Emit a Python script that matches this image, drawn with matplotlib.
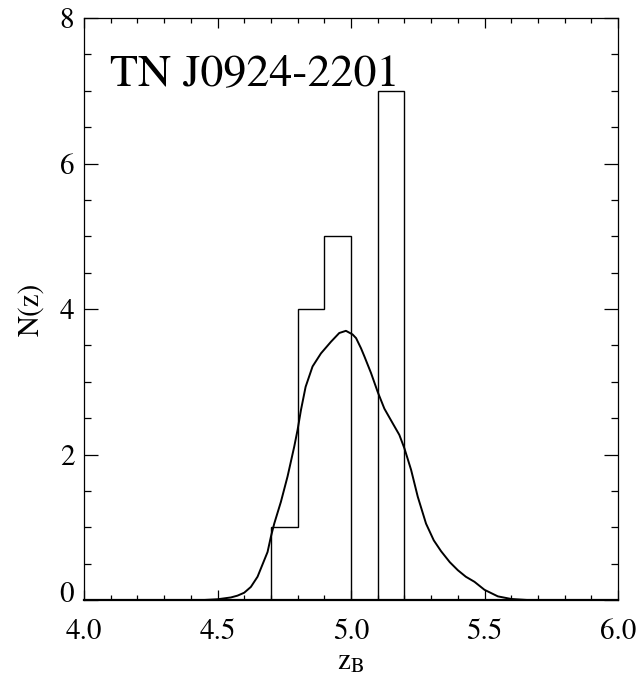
import matplotlib
matplotlib.use("Agg")
import matplotlib.pyplot as plt
import matplotlib.transforms as mtransforms
from matplotlib.ticker import MultipleLocator

plt.rcParams['font.family'] = ['TeX Gyre Termes', 'STIXGeneral', 'DejaVu Serif']
plt.rcParams['mathtext.fontset'] = 'custom'
plt.rcParams['mathtext.rm'] = 'TeX Gyre Termes'
plt.rcParams['mathtext.it'] = 'TeX Gyre Termes:italic'

# histogram of photometric redshifts
bin_edges = [4.7, 4.8, 4.9, 5.0, 5.1, 5.2]
counts = [1, 4, 5, 0, 7]

# smoothed N(z) curve
curve_z = [4.00, 4.45, 4.50, 4.55, 4.575, 4.60, 4.625, 4.65, 4.6875, 4.70,
           4.7125, 4.7375, 4.7625, 4.7875, 4.80, 4.8125, 4.83, 4.856, 4.8875,
           4.925, 4.956, 4.981, 5.006, 5.019, 5.0375, 5.05, 5.075, 5.10,
           5.125, 5.156, 5.181, 5.20, 5.225, 5.25, 5.281, 5.31, 5.3375,
           5.37, 5.40, 5.43, 5.4625, 5.50, 5.55, 5.60, 5.66, 6.00]
curve_n = [0.0, 0.0, 0.01, 0.035, 0.06, 0.10, 0.18, 0.32, 0.66, 0.87,
           1.05, 1.35, 1.70, 2.11, 2.34, 2.61, 2.93, 3.21, 3.39,
           3.55, 3.67, 3.70, 3.65, 3.60, 3.46, 3.35, 3.12, 2.86,
           2.63, 2.43, 2.27, 2.085, 1.79, 1.42, 1.05, 0.82, 0.67,
           0.52, 0.41, 0.32, 0.25, 0.14, 0.05, 0.014, 0.0, 0.0]

fig = plt.figure(figsize=(6.39, 6.86), dpi=100)
ax = fig.add_axes([84 / 639, 86 / 686, 534 / 639, 582 / 686])

ax.stairs(counts, bin_edges, baseline=0, color='black', linewidth=1.0)
ax.plot(curve_z, curve_n, color='black', linewidth=1.4, solid_joinstyle='round')

ax.set_xlim(4.0, 6.0)
ax.set_ylim(0, 8)
ax.xaxis.set_major_locator(MultipleLocator(0.5))
ax.xaxis.set_minor_locator(MultipleLocator(0.1))
ax.yaxis.set_major_locator(MultipleLocator(2))
ax.yaxis.set_minor_locator(MultipleLocator(0.5))
ax.xaxis.set_major_formatter(plt.FormatStrFormatter('%.1f'))

ax.tick_params(axis='both', which='both', direction='in', top=True, right=True,
               labelsize=21, width=0.9)
ax.tick_params(axis='x', which='major', length=7.5, pad=13)
ax.tick_params(axis='x', which='minor', length=3.8)
ax.tick_params(axis='y', which='major', length=10, pad=7)
ax.tick_params(axis='y', which='minor', length=5)
for s in ax.spines.values():
    s.set_linewidth(0.9)
ax.spines['bottom'].set_linewidth(1.6)

# IDL-style: the "0" label sits a little above the axis
fig.canvas.draw()
shift = mtransforms.ScaledTranslation(0, 6 / 72, fig.dpi_scale_trans)
for lbl in ax.get_yticklabels():
    if lbl.get_text() == '0':
        lbl.set_transform(lbl.get_transform() + shift)

ax.set_xlabel(r'z$_\mathrm{B}$', fontsize=21, labelpad=2)
ax.set_ylabel('N(z)', fontsize=21, labelpad=10)

ax.text(4.097, 7.08, 'TN J0924-2201', fontsize=33, ha='left', va='baseline')

fig.savefig('out.png', dpi=100)
